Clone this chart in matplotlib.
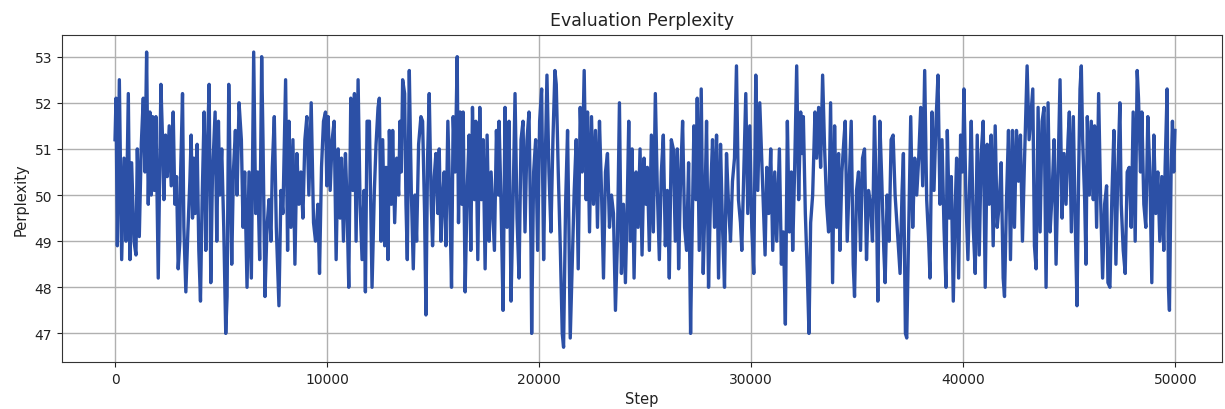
import matplotlib
matplotlib.use("Agg")
import matplotlib.pyplot as plt

steps = [
    0, 47, 110, 204, 314, 424, 518, 627, 706, 784, 894, 988, 1051, 1145, 1239, 1333, 1411, 1490, 1568, 1646,
    1709, 1772, 1850, 1929, 2038, 2164, 2242, 2305, 2383, 2462, 2556, 2650, 2744, 2822, 2901, 2979, 3058, 3089,
    3183, 3246, 3340, 3435, 3529, 3591, 3654, 3717, 3779, 3873, 3952, 4030, 4108, 4202, 4281, 4344, 4438, 4516,
    4594, 4720, 4798, 4877, 4939, 5033, 5127, 5221, 5284, 5363, 5441, 5504, 5582, 5676, 5755, 5849,
    5958, 6037, 6115, 6225, 6319, 6429, 6539, 6633, 6727, 6821, 6915, 6978, 7072, 7166, 7260, 7354, 7417, 7511,
    7605, 7730, 7824, 7918, 8044, 8138, 8201, 8295, 8389, 8483, 8577, 8671, 8765, 8859, 8953, 9047, 9141, 9251,
    9361, 9455, 9565, 9643, 9737, 9831, 9925, 9988, 10051, 10145, 10239, 10333, 10427, 10521, 10615, 10678,
    10772, 10866, 10929, 11023, 11117, 11211, 11290, 11368, 11462, 11556, 11650, 11744, 11807, 11885,
    11995, 12120, 12230, 12309, 12403, 12465, 12544, 12622, 12716, 12779, 12873, 12936, 13030, 13093, 13187,
    13281, 13375, 13438, 13500, 13563, 13657, 13720, 13783, 13877, 13971, 14065, 14143, 14222, 14316, 14425,
    14504, 14598, 14661, 14739, 14817, 14911, 14974, 15053, 15131, 15225, 15288, 15366, 15445, 15523, 15601,
    15695, 15790, 15868, 15946, 16040, 16135, 16197, 16276, 16354, 16417, 16511, 16605, 16699, 16777, 16856,
    16950, 17013, 17107, 17201, 17279, 17358, 17452, 17546, 17640, 17734, 17797, 17891, 17985, 18079,
    18110, 18204, 18298, 18392, 18486, 18580, 18674, 18769, 18863, 18957, 19051, 19145, 19239, 19333, 19427,
    19521, 19615, 19647, 19741, 19835, 19929, 20023, 20117, 20211, 20274, 20368, 20462, 20556, 20650, 20744,
    20807, 20901, 20995, 21089, 21152, 21246, 21340, 21403, 21466, 21560, 21654, 21748, 21842, 21936, 22030,
    22124, 22218, 22281, 22375, 22469, 22563, 22657, 22751, 22845, 22939, 23034, 23128, 23222, 23316, 23410,
    23504, 23598, 23692, 23786, 23880, 23974, 24068, 24162,
    24225, 24303, 24382, 24476, 24570, 24664, 24758, 24852, 24946, 25040, 25103, 25197, 25291, 25385, 25479,
    25573, 25668, 25762, 25856, 25950, 26044, 26138, 26232, 26326, 26420, 26514, 26577, 26671, 26765, 26859,
    26953, 27047, 27141, 27204, 27298, 27392, 27455, 27549, 27643, 27737, 27831, 27894, 27988, 28082, 28176,
    28270, 28365, 28459, 28553, 28647, 28741, 28835, 28929, 29023, 29117, 29211, 29305, 29399, 29493, 29556,
    29650, 29744, 29838, 29932, 30026, 30121, 30215, 30309, 30403,
    30654, 30733, 30827, 30921, 31015, 31109, 31203, 31329, 31423, 31517, 31611, 31705, 31799, 31893, 31956,
    32050, 32144, 32238, 32332, 32395, 32458, 32552, 32646, 32724, 32803, 32897, 33006, 33085, 33179, 33273,
    33367, 33461, 33555, 33649, 33743, 33837, 33932, 34026, 34120, 34182, 34276, 34371, 34433, 34527, 34621,
    34716, 34810, 34872, 34966, 35060, 35155, 35249, 35343, 35437, 35531, 35625, 35719, 35813, 35907, 35970,
    36064, 36158, 36252, 36315, 36409, 36503, 36597, 36691, 36785,
    37020, 37114, 37177, 37271, 37334, 37428, 37522, 37616, 37710, 37804, 37898, 37992, 38086, 38180, 38274,
    38369, 38431, 38525, 38619, 38714, 38808, 38902, 38996, 39090, 39184, 39247, 39341, 39435, 39529, 39623,
    39686, 39780, 39874, 39968, 40031, 40125, 40219, 40313, 40376, 40470, 40564, 40658, 40752, 40846, 40940,
    41034, 41128, 41222, 41316, 41410, 41505, 41599, 41693, 41787, 41881, 41944, 42038, 42132, 42226, 42320,
    42414, 42508, 42602, 42696, 42790, 42884, 43010, 43104,
    43277, 43355, 43434, 43528, 43622, 43716, 43810, 43904, 43998, 44092, 44186, 44281, 44375, 44469, 44563,
    44657, 44751, 44845, 44939, 45002, 45096, 45190, 45284, 45362, 45441, 45504, 45566, 45629, 45723, 45786,
    45849, 45943, 46037, 46131, 46193, 46288, 46382, 46476, 46570, 46664, 46758, 46821, 46915, 47009, 47103,
    47197, 47291, 47385, 47448, 47542, 47636, 47730, 47824, 47918, 48012, 48106, 48201, 48263, 48357, 48420,
    48514, 48608, 48702, 48796, 48890, 48985, 49079, 49173, 49267, 49361, 49455, 49518, 49612, 49675, 49722,
    49800, 49863, 49925, 49980,
]

perplexity = [
    51.2, 52.1, 48.9, 52.5, 48.6, 50.8, 49.0, 52.2, 48.6, 50.7, 49.0, 48.7, 51.0, 49.1, 51.1, 52.1, 50.5, 53.1, 49.8, 51.8,
    50.0, 51.7, 50.1, 51.7, 48.2, 52.4, 51.2, 49.9, 51.3, 50.4, 51.5, 50.2, 51.8, 49.8, 50.4, 48.4, 49.0, 50.4,
    52.2, 49.3, 47.9, 49.2, 50.3, 51.3, 49.5, 50.8, 49.6, 51.1, 48.8, 47.7, 49.9, 51.8, 48.8, 50.8, 52.4, 48.1,
    50.4, 51.8, 49.0, 51.6, 50.0, 51.0, 49.3, 47.0, 47.8, 52.4, 50.1, 48.5, 50.5, 51.4, 50.0, 52.0,
    51.2, 49.3, 50.5, 48.0, 50.5, 48.2, 53.1, 49.6, 50.5, 48.6, 53.0, 51.2, 47.8, 49.3, 49.9, 49.0, 50.6, 51.7,
    49.3, 47.6, 50.1, 49.6, 52.5, 48.8, 51.6, 49.3, 51.2, 48.5, 50.9, 49.8, 50.5, 49.5, 51.2, 51.7, 50.0, 52.0,
    49.4, 49.0, 49.8, 48.3, 50.6, 51.6, 51.8, 50.2, 51.7, 50.1, 51.2, 51.6, 48.6, 51.0, 49.5, 50.8,
    49.0, 50.9, 50.0, 48.0, 52.1, 50.1, 52.2, 49.0, 52.5, 49.8, 48.6, 50.1, 47.9, 51.6,
    51.6, 48.0, 50.1, 51.1, 51.9, 52.1, 49.0, 51.2, 48.9, 50.6, 48.6, 51.4, 49.8, 51.4, 49.4,
    50.8, 50.0, 51.6, 50.5, 52.5, 52.2, 49.8, 48.6, 52.7, 50.1, 48.4, 50.0, 49.0, 51.1, 51.7,
    51.6, 49.6, 47.4, 50.8, 52.2, 49.8, 48.9, 50.4, 50.9, 49.6, 51.0, 49.0, 49.9, 50.5, 48.9,
    51.6, 49.8, 48.0, 51.7, 50.5, 53.0, 49.4, 51.8, 49.8, 51.8, 47.9, 50.1, 51.3, 48.8, 51.9,
    49.9, 51.6, 48.6, 51.9, 49.9, 51.2, 48.4, 51.3, 49.0, 50.5, 49.8, 48.8, 51.4, 50.0,
    51.6, 49.8, 47.5, 51.9, 49.3, 51.6, 47.7, 49.8, 52.2, 49.5, 48.2, 51.2, 51.6, 49.2, 51.2,
    51.8, 48.9, 47.0, 50.5, 51.2, 48.8, 51.6, 52.3, 48.6, 50.4, 52.6, 50.5, 49.2, 51.2, 52.7,
    52.4, 50.5, 48.9, 47.0, 46.7, 49.8, 51.4, 49.3, 46.9, 48.5, 50.1, 51.2, 48.4, 51.9, 50.5,
    52.7, 49.9, 51.8, 49.2, 51.7, 49.8, 51.4, 49.3, 51.6, 50.1, 48.2, 50.5, 50.9, 49.3, 50.0,
    49.6, 47.5, 49.0, 52.0, 48.3, 49.8, 48.1, 50.0,
    51.6, 49.0, 51.0, 48.2, 50.5, 49.3, 51.0, 48.7, 50.8, 49.8, 50.6, 48.8, 51.3, 49.2, 52.2,
    50.1, 48.6, 50.5, 51.3, 48.9, 50.1, 48.2, 51.2, 51.0, 49.0, 51.0, 48.4, 50.4, 51.6, 49.3,
    48.8, 50.7, 47.0, 48.9, 51.5, 49.9, 52.1, 48.8, 52.3, 48.3, 50.1, 51.6, 48.0, 50.0, 51.2,
    49.3, 51.3, 48.2, 51.1, 49.3, 48.0, 50.9, 49.8, 49.0, 50.3, 50.8, 52.8, 49.9, 49.4, 48.8,
    50.5, 52.2, 49.6, 51.5, 49.3, 48.3, 52.6, 50.1, 52.0,
    48.7, 50.6, 49.6, 51.0, 48.8, 50.5, 49.0, 51.0, 48.5, 49.2, 47.2, 51.6, 49.2, 50.5, 48.8,
    50.6, 52.8, 49.9, 51.8, 50.9, 51.7, 49.6, 48.3, 47.0, 49.4, 50.0, 51.8, 50.8, 51.9, 50.6,
    52.6, 51.0, 49.8, 49.2, 52.0, 48.1, 51.5, 49.3, 50.9, 48.8, 50.5, 51.2, 51.6, 49.0, 50.3,
    51.6, 48.5, 47.8, 50.1, 50.5, 48.8, 50.8, 51.0, 48.6, 50.1, 49.8, 49.0, 51.7, 49.8, 47.7,
    51.6, 50.3, 48.8, 48.1, 50.0, 49.0, 51.2, 51.3, 50.0,
    48.3, 50.1, 50.9, 47.0, 46.9, 49.3, 51.7, 49.3, 50.8, 50.0, 50.8, 51.9, 50.2, 52.7, 49.9,
    49.0, 48.2, 51.8, 50.1, 51.6, 52.6, 49.8, 51.2, 49.3, 48.0, 51.4, 49.5, 50.4, 47.7, 49.8,
    50.8, 48.2, 51.3, 50.5, 52.3, 49.9, 48.6, 50.5, 51.6, 49.3, 48.3, 51.3, 48.7, 50.9, 51.6,
    48.0, 51.1, 49.8, 51.3, 48.9, 51.5, 49.3, 49.8, 50.7, 48.2, 47.8, 49.9, 51.4, 48.6, 51.4,
    49.3, 51.4, 50.3, 51.3, 49.0, 50.7, 52.8, 51.2,
    52.3, 48.9, 48.4, 51.9, 49.2, 51.6, 51.9, 48.0, 52.0, 49.2, 50.0, 51.2, 48.5, 50.5, 52.5,
    49.5, 50.9, 49.8, 51.2, 51.8, 49.2, 51.7, 49.3, 47.6, 50.5, 52.3, 52.8, 51.2, 49.9, 48.5,
    51.7, 50.0, 51.6, 49.9, 51.5, 49.3, 52.2, 49.9, 48.2, 49.8, 50.2, 48.1, 48.0, 50.0, 51.4,
    48.5, 50.5, 52.0, 49.8, 48.8, 48.3, 50.5, 50.6, 49.3, 51.8, 49.0, 52.7, 52.1, 50.5, 51.8,
    49.8, 49.3, 51.7, 50.5, 48.1, 51.3, 49.6, 50.5, 49.0, 50.4, 48.8, 50.6, 52.3, 48.0, 47.5,
    50.5, 51.6, 50.5, 51.4,
]

xticks = [0, 10000, 20000, 30000, 40000, 50000]
yticks = [47, 48, 49, 50, 51, 52, 53]

fig = plt.figure(figsize=(12.25, 4.1), dpi=100)
ax = fig.add_axes([62 / 1225, 47 / 410, 1160 / 1225, 327 / 410])
ax.plot(steps, perplexity, color="#2c50a6", linewidth=2.4, solid_joinstyle="round")
ax.set_xlim(-2500, 52200)
ax.set_ylim(46.38, 53.47)
ax.set_xticks(xticks)
ax.set_yticks(yticks)
ax.grid(True, color="#b0b0b0", linewidth=1.0)
ax.set_axisbelow(True)
ax.set_title("Evaluation Perplexity", fontsize=12.5, color="#222222", pad=7)
ax.set_xlabel("Step", fontsize=10.5, color="#222222")
ax.set_ylabel("Perplexity", fontsize=10.5, color="#222222")
ax.tick_params(labelsize=10, colors="#222222")
for s in ax.spines.values():
    s.set_color("#333333")

fig.savefig("out.png", dpi=100)
